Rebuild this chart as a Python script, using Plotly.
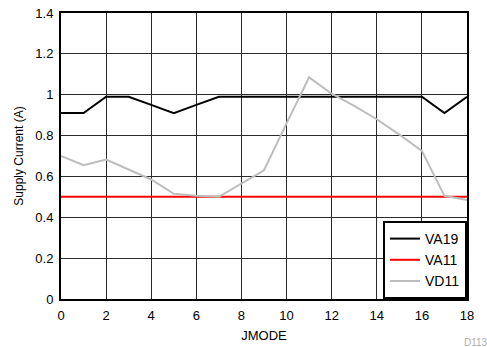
import plotly.graph_objects as go

jmode = list(range(19))
va19 = [0.91, 0.91, 0.99, 0.99, 0.95, 0.91, 0.95, 0.99, 0.99, 0.99, 0.99, 0.99, 0.99, 0.99, 0.99, 0.99, 0.99, 0.91, 0.99]
va11 = [0.50] * 19
vd11 = [0.70, 0.655, 0.683, 0.635, 0.585, 0.515, 0.505, 0.50, 0.565, 0.63, 0.86, 1.085, 1.005, 0.945, 0.88, 0.805, 0.725, 0.505, 0.485]

x_ticks = [0, 2, 4, 6, 8, 10, 12, 14, 16, 18]
y_ticks = [0, 0.2, 0.4, 0.6, 0.8, 1.0, 1.2, 1.4]
y_tick_labels = ["0", "0.2", "0.4", "0.6", "0.8", "1", "1.2", "1.4"]

fig = go.Figure()
fig.add_trace(go.Scatter(x=jmode, y=va19, mode="lines", name="VA19",
                         line=dict(color="#000000", width=2)))
fig.add_trace(go.Scatter(x=jmode, y=va11, mode="lines", name="VA11",
                         line=dict(color="#ff0000", width=2)))
fig.add_trace(go.Scatter(x=jmode, y=vd11, mode="lines", name="VD11",
                         line=dict(color="#bdbdbd", width=2)))

font = "Liberation Sans, Arial, sans-serif"
fig.update_layout(
    width=487, height=347,
    margin=dict(l=61, r=20, t=13, b=48, autoexpand=False),
    paper_bgcolor="white", plot_bgcolor="white",
    font=dict(family=font, size=13, color="#000000"),
    showlegend=True,
    legend=dict(x=1, y=0, xanchor="right", yanchor="bottom",
                bordercolor="#000000", borderwidth=2, bgcolor="white",
                font=dict(size=14), tracegroupgap=0, itemwidth=30),
    xaxis=dict(range=[0, 18], tickvals=x_ticks, showgrid=True, automargin=False,
               gridcolor="#2a2a2a", gridwidth=1, zeroline=False,
               showline=True, linecolor="#000000", linewidth=2, mirror=True,
               ticks="", tickfont=dict(size=13), ticklabelstandoff=3,
               title=dict(text="JMODE", font=dict(size=13), standoff=9)),
    yaxis=dict(range=[0, 1.4], tickvals=y_ticks, ticktext=y_tick_labels, automargin=False,
               showgrid=True, gridcolor="#2a2a2a", gridwidth=1, zeroline=False,
               showline=True, linecolor="#000000", linewidth=2, mirror=True,
               ticks="", tickfont=dict(size=13), ticklabelstandoff=3,
               title=dict(text="Supply Current (A)", font=dict(size=12), standoff=9)),
    annotations=[dict(text="D113", xref="paper", yref="paper", x=1.0, y=0,
                      xshift=-5, yshift=-36, xanchor="left", yanchor="top",
                      showarrow=False, font=dict(size=10, color="#b0b0b0"))],
)

fig.write_html("out.html", config={"displayModeBar": False},
               post_script="document.body.style.margin='0';document.body.style.overflow='hidden';")
